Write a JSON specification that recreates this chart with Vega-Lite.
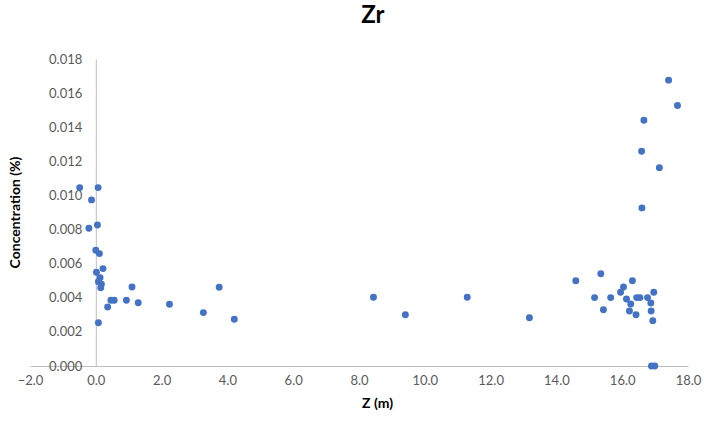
{
  "$schema": "https://vega.github.io/schema/vega-lite/v6.json",
  "autosize": "none",
  "width": 658,
  "height": 307,
  "padding": {"left": 30, "top": 59, "right": 16, "bottom": 55},
  "background": "white",
  "config": {"view": {"stroke": null}, "font": "Lato"},
  "title": {"text": "Zr", "fontSize": 24, "fontWeight": "bold", "font": "Lato", "color": "#000000", "anchor": "middle", "frame": "bounds", "dx": 18, "offset": 25},
  "data": {"values": [
    {"z": -0.49, "c": 0.01046}, {"z": 0.07, "c": 0.01046}, {"z": -0.13, "c": 0.00974},
    {"z": -0.21, "c": 0.00808}, {"z": 0.05, "c": 0.00827}, {"z": 0.00, "c": 0.00679},
    {"z": 0.11, "c": 0.00659}, {"z": 0.22, "c": 0.00571}, {"z": 0.02, "c": 0.0055},
    {"z": 0.13, "c": 0.00518}, {"z": 0.08, "c": 0.00494}, {"z": 0.17, "c": 0.00479},
    {"z": 0.15, "c": 0.00459}, {"z": 1.10, "c": 0.00463}, {"z": 0.46, "c": 0.00385},
    {"z": 0.56, "c": 0.00385}, {"z": 0.36, "c": 0.00346}, {"z": 0.93, "c": 0.00385},
    {"z": 1.29, "c": 0.00371}, {"z": 0.08, "c": 0.00254}, {"z": 2.24, "c": 0.00362},
    {"z": 3.27, "c": 0.00313}, {"z": 3.75, "c": 0.00462}, {"z": 4.21, "c": 0.00274},
    {"z": 8.44, "c": 0.00403}, {"z": 9.41, "c": 0.00301}, {"z": 11.29, "c": 0.00403},
    {"z": 13.18, "c": 0.00283}, {"z": 14.59, "c": 0.00500}, {"z": 15.35, "c": 0.00541},
    {"z": 15.16, "c": 0.00401}, {"z": 15.43, "c": 0.00330}, {"z": 15.65, "c": 0.00401},
    {"z": 15.95, "c": 0.00432}, {"z": 16.04, "c": 0.00463}, {"z": 16.13, "c": 0.00393},
    {"z": 16.31, "c": 0.00500}, {"z": 16.26, "c": 0.00364}, {"z": 16.22, "c": 0.00323},
    {"z": 16.44, "c": 0.00401}, {"z": 16.54, "c": 0.00401}, {"z": 16.42, "c": 0.00301},
    {"z": 16.77, "c": 0.00401}, {"z": 16.96, "c": 0.00432}, {"z": 16.87, "c": 0.00369},
    {"z": 16.88, "c": 0.00323}, {"z": 16.93, "c": 0.00266}, {"z": 16.89, "c": 0.0},
    {"z": 16.99, "c": 0.0}, {"z": 17.41, "c": 0.01676}, {"z": 17.68, "c": 0.01527},
    {"z": 16.66, "c": 0.01441}, {"z": 16.59, "c": 0.01259}, {"z": 17.13, "c": 0.01163},
    {"z": 16.60, "c": 0.00927}
  ]},
  "mark": {"type": "circle", "size": 48, "color": "#4472C4", "opacity": 1},
  "encoding": {
    "x": {
      "field": "z", "type": "quantitative",
      "scale": {"domain": [-2, 18], "nice": false, "zero": false},
      "axis": {
        "title": "Z (m)", "titleFontSize": 14, "titleFontWeight": "bold", "titleColor": "#000000", "titleFont": "Lato",
        "titleX": 347, "titlePadding": 9,
        "values": [-2, 0, 2, 4, 6, 8, 10, 12, 14, 16, 18], "format": ".1f",
        "labelFontSize": 13, "labelColor": "#595959", "labelPadding": 8,
        "ticks": false, "grid": false, "domainColor": "#BFBFBF", "labelFlush": false
      }
    },
    "y": {
      "field": "c", "type": "quantitative",
      "scale": {"domain": [0, 0.018], "nice": false},
      "axis": {
        "title": "Concentration (%)", "titleFontSize": 14, "titleFontWeight": "bold", "titleColor": "#000000", "titleFont": "Lato",
        "titleX": -73, "titleY": 153,
        "values": [0, 0.002, 0.004, 0.006, 0.008, 0.010, 0.012, 0.014, 0.016, 0.018], "format": ".3f",
        "labelFontSize": 13, "labelColor": "#595959", "labelPadding": 14,
        "offset": -65.8, "ticks": false, "grid": false, "domainColor": "#BFBFBF"
      }
    }
  }
}
